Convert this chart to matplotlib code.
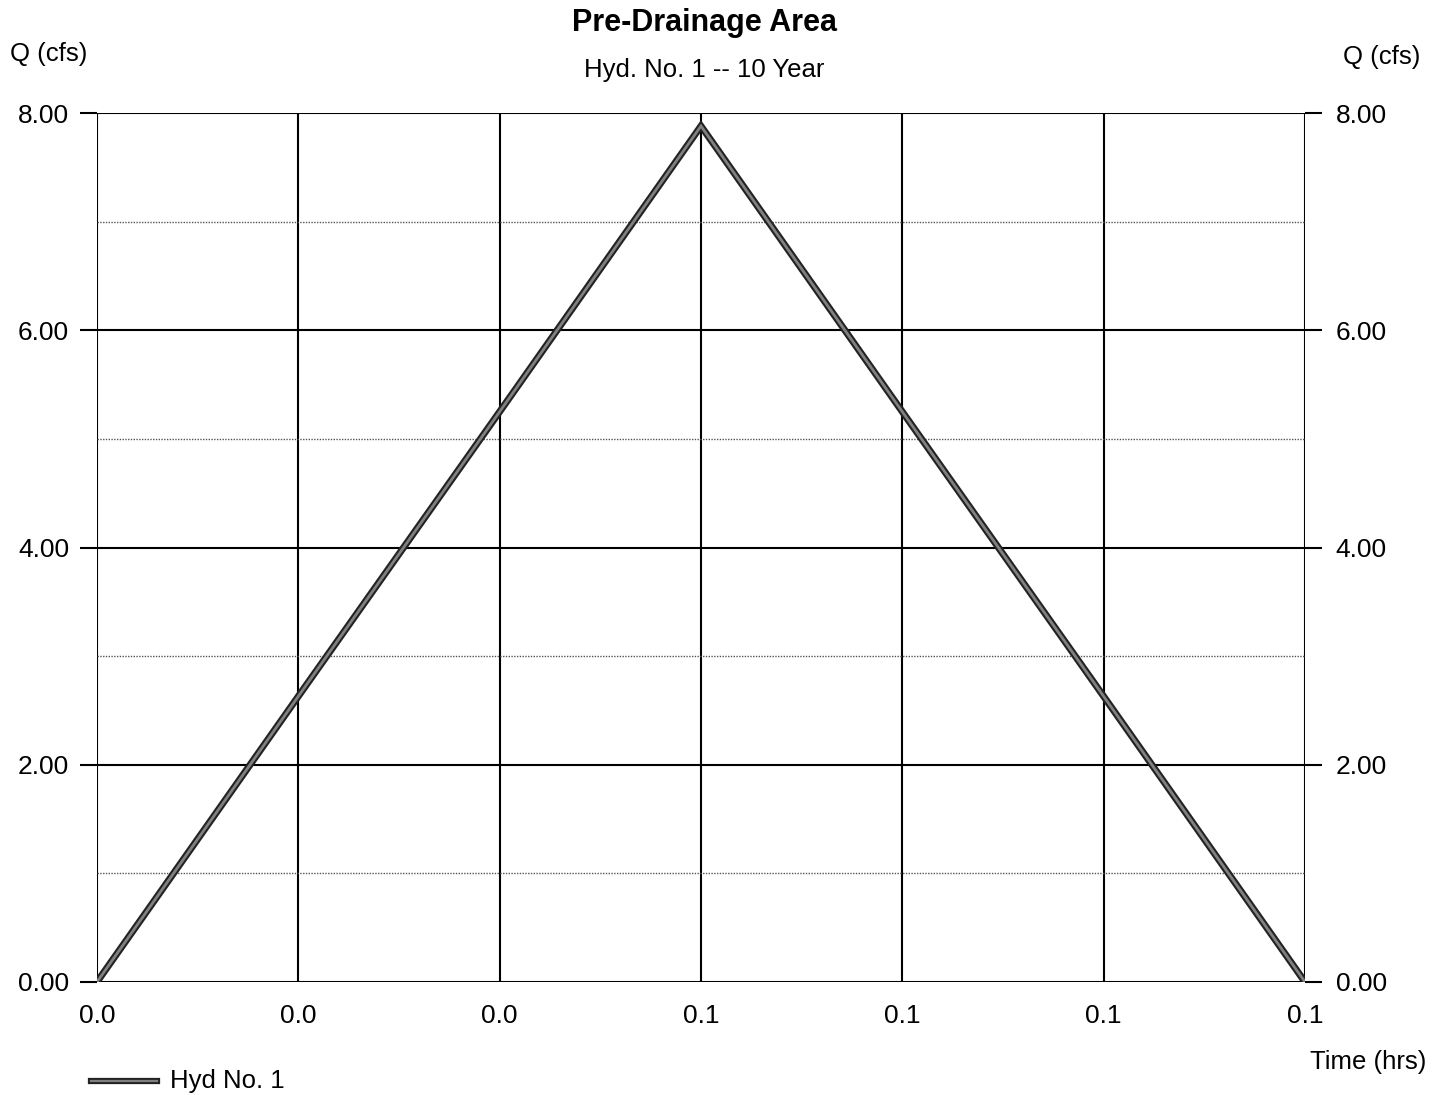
import matplotlib
matplotlib.use("Agg")
import matplotlib.pyplot as plt
from matplotlib.ticker import FormatStrFormatter

plt.rcParams['font.family'] = ['Liberation Sans', 'DejaVu Sans']

# Hydrograph ordinates
time_hrs = [0.00, 0.02, 0.04, 0.06, 0.08, 0.10, 0.12]
q_cfs = [0.00, 2.63, 5.25, 7.88, 5.25, 2.63, 0.00]

x_ticks = [0.00, 0.02, 0.04, 0.06, 0.08, 0.10, 0.12]
y_major = [0, 2, 4, 6, 8]
y_minor = [1, 3, 5, 7]

fig = plt.figure(figsize=(14.41, 10.95), dpi=100)
ax = fig.add_axes([0.0673, 0.1032, 0.8383, 0.7936])

ax.set_xlim(0, 0.12)
ax.set_ylim(0, 8)

# grid
for x in x_ticks:
    ax.axvline(x, color='black', lw=1.5, zorder=1)
for y in y_major:
    ax.axhline(y, color='black', lw=1.5, zorder=1)
for y in y_minor:
    ax.axhline(y, color='#555555', lw=1.0, ls=(0, (1, 1)), zorder=1)

# hydrograph line: dark outline with grey core
ax.plot(time_hrs, q_cfs, color='#222222', lw=5.0, zorder=3, solid_joinstyle='miter')
ax.plot(time_hrs, q_cfs, color='#808080', lw=2.0, zorder=4, solid_joinstyle='miter')

for s in ax.spines.values():
    s.set_visible(False)

ax.set_xticks(x_ticks)
ax.xaxis.set_major_formatter(FormatStrFormatter('%.1f'))
ax.set_yticks(y_major)
ax.yaxis.set_major_formatter(FormatStrFormatter('%.2f'))
ax.tick_params(axis='x', length=0, pad=16, labelsize=19)
ax.tick_params(axis='y', length=12, width=1.5, pad=8, labelsize=19)

ax2 = ax.twinx()
ax2.set_ylim(0, 8)
ax2.set_yticks(y_major)
ax2.yaxis.set_major_formatter(FormatStrFormatter('%.2f'))
ax2.tick_params(axis='y', length=12, width=1.5, pad=10, labelsize=19)
for s in ax2.spines.values():
    s.set_visible(False)

fig.text(0.489, 0.979, 'Pre-Drainage Area', ha='center', va='center',
         fontsize=22, fontweight='bold')
fig.text(0.489, 0.936, 'Hyd. No. 1 -- 10 Year', ha='center', va='center', fontsize=18.5)
fig.text(0.007, 0.951, 'Q (cfs)', ha='left', va='center', fontsize=18.5)
fig.text(0.986, 0.948, 'Q (cfs)', ha='right', va='center', fontsize=18.5)
fig.text(0.990, 0.030, 'Time (hrs)', ha='right', va='center', fontsize=18.5)

# legend sample
fig.lines.append(plt.Line2D([0.063, 0.109], [0.013, 0.013], transform=fig.transFigure,
                            color='#222222', lw=4.5))
fig.lines.append(plt.Line2D([0.063, 0.109], [0.013, 0.013], transform=fig.transFigure,
                            color='#808080', lw=1.6))
fig.text(0.118, 0.013, 'Hyd No. 1', ha='left', va='center', fontsize=18.5)

fig.savefig('out.png', dpi=100)
